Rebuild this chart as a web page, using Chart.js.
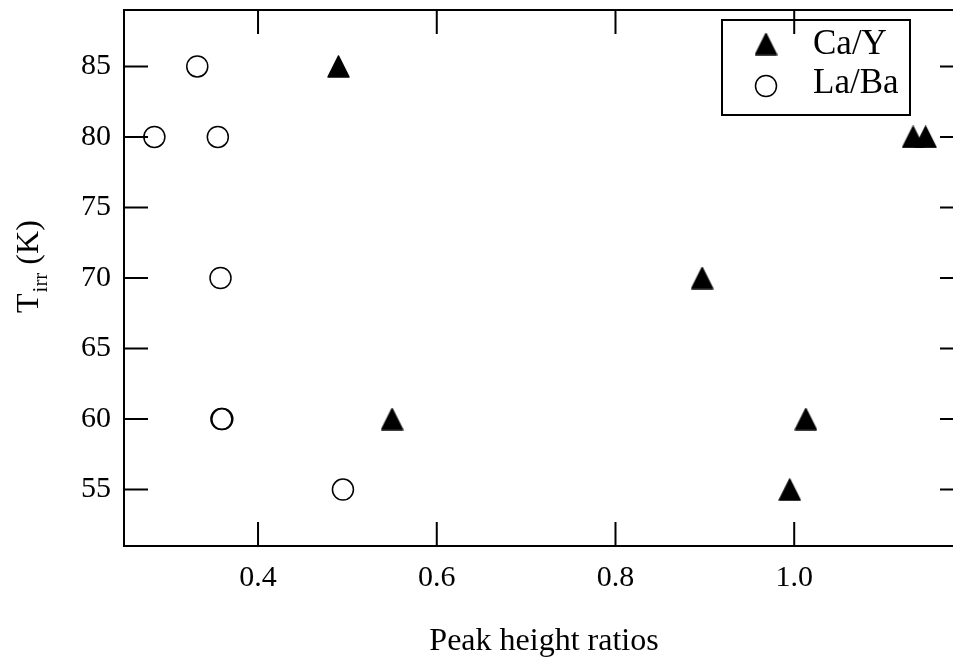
<!DOCTYPE html>
<html>
<head>
<meta charset="utf-8">
<script src="https://cdn.jsdelivr.net/npm/chart.js@4.4.0/dist/chart.umd.min.js"></script>
<style>
  html, body { margin: 0; padding: 0; background: #fff; overflow: hidden; }
  #wrap { width: 953px; height: 658px; overflow: hidden; }
  #plot { display: block; margin-top: -3px; }
</style>
</head>
<body>
<div id="wrap"><canvas id="plot" width="990" height="661"></canvas></div>
<script>
// values
const caY_x = [0.490, 1.133, 1.147, 0.897, 0.550, 1.013, 0.995];
const caY_y = [85, 80, 80, 70, 60, 60, 55];
const laBa_x = [0.332, 0.284, 0.355, 0.358, 0.359, 0.360, 0.495];
const laBa_y = [85, 80, 80, 70, 60, 60, 55];
const xTicks = [0.4, 0.6, 0.8, 1.0];
const yTicks = [55, 60, 65, 70, 75, 80, 85];

const FONT = "'Liberation Serif', 'DejaVu Serif', serif";

// filled triangle marker, centred on its box
function makeTriangle(w, h) {
  const c = document.createElement('canvas');
  c.width = w; c.height = h;
  const g = c.getContext('2d');
  g.fillStyle = '#000';
  g.strokeStyle = '#000';
  g.lineJoin = 'round';
  g.lineWidth = 1.5;
  g.beginPath();
  g.moveTo(w / 2, 1);
  g.lineTo(w - 1, h - 1);
  g.lineTo(1, h - 1);
  g.closePath();
  g.fill();
  g.stroke();
  return c;
}
const tri = makeTriangle(23, 23);

const toPts = (xs, ys) => xs.map((x, i) => ({x: x, y: ys[i]}));

// frame, inward ticks on all four sides, y title and boxed legend
const framePlugin = {
  id: 'frame',
  afterDraw(chart) {
    const {ctx, chartArea: a, scales} = chart;
    const len = 24;
    ctx.save();
    ctx.strokeStyle = '#000';
    ctx.lineWidth = 2;
    ctx.strokeRect(a.left, a.top, a.right - a.left, a.bottom - a.top);
    ctx.beginPath();
    scales.x.ticks.forEach(t => {
      const px = scales.x.getPixelForValue(t.value);
      ctx.moveTo(px, a.bottom); ctx.lineTo(px, a.bottom - len);
      ctx.moveTo(px, a.top); ctx.lineTo(px, a.top + len);
    });
    scales.y.ticks.forEach(t => {
      const py = scales.y.getPixelForValue(t.value);
      ctx.moveTo(a.left, py); ctx.lineTo(a.left + len, py);
      ctx.moveTo(a.right, py); ctx.lineTo(a.right - len, py);
    });
    ctx.stroke();

    // y axis title: T_irr (K)
    ctx.fillStyle = '#000';
    ctx.translate(a.left - 86, a.top + 303);
    ctx.rotate(-Math.PI / 2);
    ctx.textBaseline = 'alphabetic';
    ctx.textAlign = 'left';
    ctx.font = '32px ' + FONT;
    ctx.fillText('T', 0, 0);
    let off = ctx.measureText('T').width + 1;
    ctx.font = '21px ' + FONT;
    ctx.fillText('irr', off, 9);
    off += ctx.measureText('irr').width;
    ctx.font = '32px ' + FONT;
    ctx.fillText(' (K)', off, 0);
    ctx.restore();

    // legend box
    ctx.save();
    const bx = a.right - 242, by = a.top + 10, bw = 188, bh = 95;
    ctx.lineWidth = 2;
    ctx.strokeStyle = '#000';
    ctx.strokeRect(bx, by, bw, bh);
    ctx.font = '35px ' + FONT;
    ctx.fillStyle = '#000';
    ctx.textBaseline = 'alphabetic';
    const ds = chart.data.datasets;
    // Ca/Y
    ctx.drawImage(tri, bx + 44 - 11.5, by + 24 - 11.5);
    ctx.fillText(ds[0].label, bx + 91, by + 34);
    // La/Ba
    ctx.beginPath();
    ctx.lineWidth = 1.5;
    ctx.arc(bx + 44, by + 66, 10.5, 0, Math.PI * 2);
    ctx.stroke();
    ctx.fillText(ds[1].label, bx + 91, by + 73);
    ctx.restore();
  }
};

new Chart(document.getElementById('plot'), {
  type: 'scatter',
  data: {
    datasets: [
      {
        label: 'Ca/Y',
        data: toPts(caY_x, caY_y),
        pointStyle: tri,
        pointRadius: 12,
        pointHoverRadius: 12
      },
      {
        label: 'La/Ba',
        data: toPts(laBa_x, laBa_y),
        pointStyle: 'circle',
        pointRadius: 10.5,
        pointHoverRadius: 10.5,
        borderWidth: 1.5,
        borderColor: '#000',
        backgroundColor: 'rgba(255,255,255,0)'
      }
    ]
  },
  options: {
    responsive: false,
    animation: false,
    events: [],
    layout: { padding: { top: 8, right: 26, left: 0, bottom: 0 } },
    plugins: {
      legend: { display: false },
      tooltip: { enabled: false }
    },
    scales: {
      x: {
        type: 'linear',
        min: 0.25,
        max: 1.19,
        afterBuildTicks: s => { s.ticks = xTicks.map(v => ({value: v})); },
        afterFit: s => { s.height = 112; s.paddingLeft = 0; s.paddingRight = 0; },
        grid: { display: false, drawTicks: false },
        border: { display: false },
        ticks: {
          padding: 14,
          color: '#000',
          font: { family: FONT, size: 30 },
          callback: v => v.toFixed(1)
        },
        title: {
          display: true,
          text: 'Peak height ratios',
          color: '#000',
          font: { family: FONT, size: 32 },
          padding: { top: 0, bottom: -3 }
        }
      },
      y: {
        type: 'linear',
        min: 51,
        max: 89,
        afterBuildTicks: s => { s.ticks = yTicks.map(v => ({value: v})); },
        afterFit: s => { s.width = 124; s.paddingTop = 0; s.paddingBottom = 0; },
        grid: { display: false, drawTicks: false },
        border: { display: false },
        ticks: {
          padding: 13,
          color: '#000',
          font: { family: FONT, size: 30 }
        }
      }
    }
  },
  plugins: [framePlugin]
});
</script>
</body>
</html>
